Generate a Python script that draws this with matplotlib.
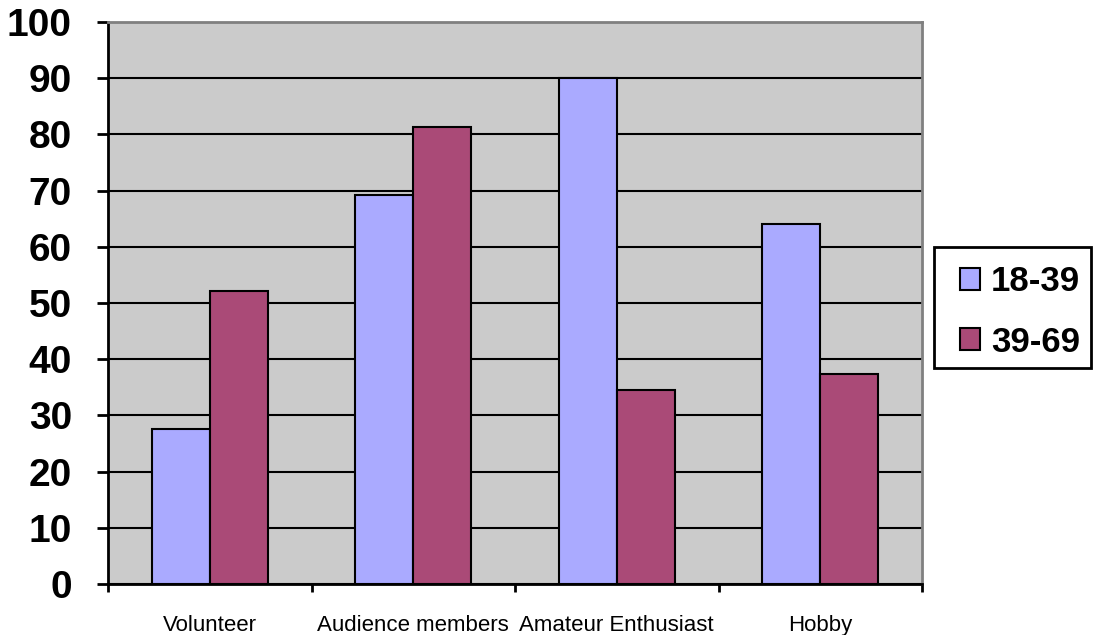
import numpy as np
import matplotlib
matplotlib.use("Agg")
import matplotlib.pyplot as plt
from matplotlib.patches import Patch, Rectangle

categories = ["Volunteer", "Audience members", "Amateur Enthusiast", "Hobby"]
young = [27.6, 69.2, 90.0, 64.0]
older = [52.2, 81.3, 34.6, 37.4]
series_names = ["18-39", "39-69"]

plt.rcParams['font.family'] = ['Liberation Sans', 'DejaVu Sans']

fig = plt.figure(figsize=(10.93, 6.35), dpi=100)
ax = fig.add_axes([108 / 1093, 51 / 635, 814 / 1093, 562 / 635])
ax.set_facecolor('#CBCBCB')

x = np.arange(len(categories))
w = 0.285
ax.bar(x - w / 2, young, w, color='#AAAAFF', edgecolor='black', linewidth=1.5, zorder=3)
ax.bar(x + w / 2, older, w, color='#AA4A77', edgecolor='black', linewidth=1.5, zorder=3)

ax.set_xlim(-0.5, len(categories) - 0.5)
ax.set_ylim(0, 100)
ax.set_yticks(range(0, 101, 10))
ax.yaxis.grid(True, color='black', linewidth=1.5, zorder=1)
ax.set_axisbelow(True)

ax.set_xticks(np.arange(-0.5, len(categories), 1))
ax.set_xticklabels([])
ax.set_xticks(x, minor=True)
ax.set_xticklabels(categories, minor=True, fontsize=16)
ax.tick_params(axis='x', which='minor', length=0, pad=22)
ax.tick_params(axis='x', which='major', length=6, width=2, direction='out')
ax.tick_params(axis='y', length=8, width=2, direction='out', pad=18, labelsize=28)
for lbl in ax.get_yticklabels():
    lbl.set_fontweight('bold')

for side in ['left', 'bottom']:
    ax.spines[side].set_linewidth(2)
    ax.spines[side].set_color('black')
for side in ['top', 'right']:
    ax.spines[side].set_linewidth(2)
    ax.spines[side].set_color('#808080')

# legend box drawn separately so it can run to the right edge like the original
fig.patches.append(Rectangle((934 / 1093, (635 - 368) / 635), 157 / 1093, 121 / 635,
                             transform=fig.transFigure, facecolor='white',
                             edgecolor='black', linewidth=2))

handles = [Patch(facecolor='#AAAAFF', edgecolor='black', linewidth=1.5),
           Patch(facecolor='#AA4A77', edgecolor='black', linewidth=1.5)]
leg = fig.legend(handles, series_names, loc='center left',
                 bbox_to_anchor=(945 / 1093, (635 - 312) / 635),
                 borderaxespad=0,
                 prop={'weight': 'bold', 'size': 25}, frameon=False,
                 handlelength=0.6, handleheight=0.6, handletextpad=0.3,
                 labelspacing=0.78, borderpad=0.42)

fig.savefig("out.png", dpi=100)
